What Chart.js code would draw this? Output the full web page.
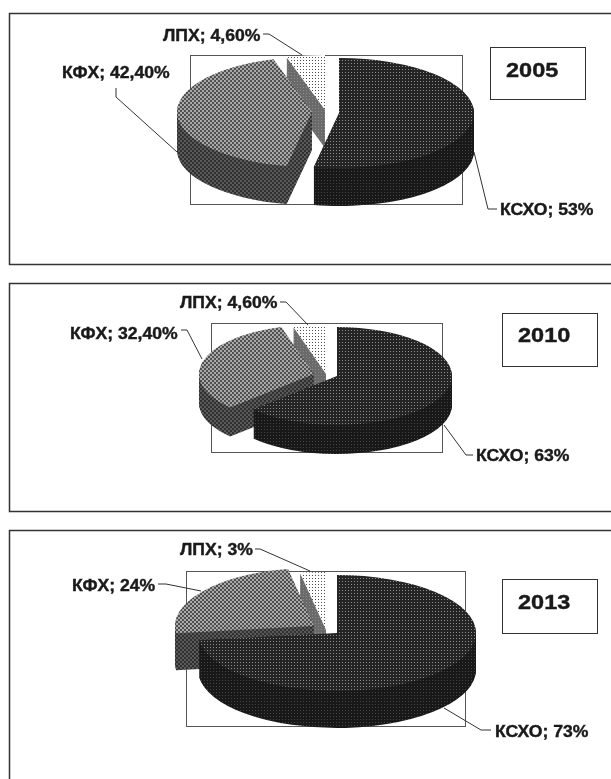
<!DOCTYPE html>
<html>
<head>
<meta charset="utf-8">
<title>КСХО, КФХ, ЛПХ</title>
<script src="https://cdn.jsdelivr.net/npm/chart.js@4"></script>
<style>
    html, body { margin: 0; padding: 0; background: #fff; overflow: hidden; }
    body { width: 611px; height: 779px; position: relative; }
    canvas { position: absolute; left: 0; filter: blur(0.35px); }
</style>
</head>
<body>
<canvas id="chart2005" width="611" height="270" style="top:0"></canvas>
<canvas id="chart2010" width="611" height="245" style="top:270px"></canvas>
<canvas id="chart2013" width="611" height="264" style="top:515px"></canvas>
<script>
// Chart data
const categories = ["КСХО", "КФХ", "ЛПХ"];
const values2005 = [53, 42.4, 4.6];
const values2010 = [63, 32.4, 4.6];
const values2013 = [73, 24, 3];
const labels2005 = ["КСХО; 53%", "КФХ; 42,40%", "ЛПХ; 4,60%"];
const labels2010 = ["КСХО; 63%", "КФХ; 32,40%", "ЛПХ; 4,60%"];
const labels2013 = ["КСХО; 73%", "КФХ; 24%", "ЛПХ; 3%"];

// Dither tile for the scanned fills: dots = light cells on a dark base
function makeTile(size, base, light, dots) {
    const tile = document.createElement("canvas");
    tile.width = tile.height = size;
    const t = tile.getContext("2d");
    t.fillStyle = base;
    t.fillRect(0, 0, size, size);
    t.fillStyle = light;
    dots.forEach(d => t.fillRect(d[0], d[1], 1, 1));
    return t.createPattern(tile, "repeat");
}

const checker = [[0, 0], [1, 0], [0, 1], [1, 1], [2, 2], [3, 2], [2, 3], [3, 3]];
const topFills = [
    makeTile(3, "#242424", "#8c8c8c", [[0, 0]]),
    makeTile(4, "#505050", "#a8a8a8", checker),
    makeTile(3, "#ffffff", "#505050", [[0, 0]])
];
const wallFills = [
    makeTile(3, "#181818", "#444444", [[0, 0]]),
    makeTile(4, "#303030", "#5a5a5a", checker),
    makeTile(3, "#6a6a6a", "#8a8a8a", [[0, 0]])
];

// Layout of each panel (slice shifts are the pie explosion)
const layout2005 = {
    title: "2005", frame: [9, 13, 640, 251], plotBox: [190, 55, 272, 149], titleBox: [490, 47, 95, 52],
    titlePos: [506, 77], cx: 339, cy: 113, rx: 135, ry: 55, depth: 38,
    shifts: [[0, 0], [-27, -1], [-14, -3]],
    labelPos: [[500, 215], [62, 78], [163, 41]],
    leaders: [[[474, 152], [488, 209], [497, 209]], [[177, 152], [116, 97], [116, 88]], [[263, 34], [269, 34], [302, 55]]]
};
const layout2010 = {
    title: "2010", frame: [9, 13, 640, 228], plotBox: [211, 53, 231, 129], titleBox: [502, 43, 95, 53],
    titlePos: [518, 72], cx: 337, cy: 106, rx: 115, ry: 49, depth: 29,
    shifts: [[0, 0], [-23, -2], [-11, -2]],
    labelPos: [[476, 191], [70, 69], [180, 38]],
    leaders: [[[444, 155], [466, 185], [473, 185]], [[202, 89], [187, 60], [181, 60]], [[280, 32], [286, 32], [308, 55]]]
};
const layout2013 = {
    title: "2013", frame: [9, 15, 640, 300], plotBox: [186, 56, 279, 155], titleBox: [502, 64, 95, 54],
    titlePos: [518, 94], cx: 337, cy: 118, rx: 139, ry: 58, depth: 37,
    shifts: [[0, 0], [-23, -7], [-11, -3]],
    labelPos: [[495, 222], [72, 76], [180, 40]],
    leaders: [[[444, 193], [481, 215], [491, 215]], [[201, 76], [166, 69], [158, 69]], [[255, 34], [260, 34], [310, 56]]]
};

// Text helper: the scan is stretched a little horizontally and inked heavy
function drawText(ctx, text, x, y, size, stretch) {
    ctx.save();
    ctx.translate(x, y);
    ctx.scale(stretch, 1);
    ctx.font = "bold " + size + "px 'Liberation Sans'";
    ctx.fillStyle = "#1a1a1a";
    ctx.strokeStyle = "#1a1a1a";
    ctx.lineWidth = 0.4;
    ctx.textBaseline = "alphabetic";
    ctx.fillText(text, 0, 0);
    ctx.strokeText(text, 0, 0);
    ctx.restore();
}

// Paints one arc element flattened to an ellipse at the given place
function paintArc(ctx, el, fill, px, py, rx, ry) {
    const saved = el.options;
    el.options = { ...saved, backgroundColor: fill, borderWidth: 0 };
    ctx.save();
    ctx.translate(px, py);
    ctx.scale(rx / el.outerRadius, ry / el.outerRadius);
    ctx.translate(-el.x, -el.y);
    // keep the dither anchored to the page, not to the flattened arc
    fill.setTransform(ctx.getTransform().inverse());
    el.draw(ctx);
    ctx.restore();
    el.options = saved;
}

const pie3dPlugin = {
    id: "pie3d",
    beforeDatasetsDraw(chart, args, opts) {
        const ctx = chart.ctx;
        const p = opts.panel;
        ctx.save();
        ctx.fillStyle = "#ffffff";
        ctx.strokeStyle = "#333333";
        ctx.lineWidth = 1.5;
        ctx.strokeRect(p.frame[0] + 0.5, p.frame[1] + 0.5, p.frame[2], p.frame[3]);
        ctx.strokeStyle = "#555555";
        ctx.lineWidth = 1;
        ctx.fillRect(p.plotBox[0], p.plotBox[1], p.plotBox[2], p.plotBox[3]);
        ctx.strokeRect(p.plotBox[0] + 0.5, p.plotBox[1] + 0.5, p.plotBox[2], p.plotBox[3]);
        ctx.restore();
    },
    beforeDatasetDraw(chart, args, opts) {
        const ctx = chart.ctx;
        const p = opts.panel;
        const arcs = args.meta.data;
        // back slices first so the big one ends up in front
        for (let i = arcs.length - 1; i >= 0; i--) {
            const px = p.cx + p.shifts[i][0];
            const py = p.cy + p.shifts[i][1];
            for (let d = p.depth; d > 0; d--) {
                paintArc(ctx, arcs[i], wallFills[i], px, py + d, p.rx, p.ry);
            }
            paintArc(ctx, arcs[i], topFills[i], px, py, p.rx, p.ry);
        }
        return false;
    },
    afterDatasetsDraw(chart, args, opts) {
        const ctx = chart.ctx;
        const p = opts.panel;
        ctx.save();
        ctx.strokeStyle = "#333333";
        ctx.lineWidth = 1;
        p.leaders.forEach(line => {
            ctx.beginPath();
            line.forEach((pt, n) => n ? ctx.lineTo(pt[0], pt[1]) : ctx.moveTo(pt[0], pt[1]));
            ctx.stroke();
        });
        ctx.restore();
        opts.labels.forEach((text, i) => {
            drawText(ctx, text, p.labelPos[i][0], p.labelPos[i][1], 16, 1.1);
        });
        ctx.save();
        ctx.fillStyle = "#ffffff";
        ctx.strokeStyle = "#333333";
        ctx.lineWidth = 1;
        ctx.fillRect(p.titleBox[0], p.titleBox[1], p.titleBox[2], p.titleBox[3]);
        ctx.strokeRect(p.titleBox[0] + 0.5, p.titleBox[1] + 0.5, p.titleBox[2], p.titleBox[3]);
        ctx.restore();
        drawText(ctx, p.title, p.titlePos[0], p.titlePos[1], 21, 1.12);
    }
};

function renderPie(canvasId, values, labels, panel) {
    return new Chart(document.getElementById(canvasId), {
        type: "pie",
        data: {
            labels: categories,
            datasets: [{ data: values, backgroundColor: topFills, borderWidth: 0 }]
        },
        options: {
            responsive: false,
            animation: false,
            events: [],
            plugins: {
                legend: { display: false },
                tooltip: { enabled: false },
                pie3d: { panel: panel, labels: labels }
            }
        },
        plugins: [pie3dPlugin]
    });
}

renderPie("chart2005", values2005, labels2005, layout2005);
renderPie("chart2010", values2010, labels2010, layout2010);
renderPie("chart2013", values2013, labels2013, layout2013);
</script>
</body>
</html>
